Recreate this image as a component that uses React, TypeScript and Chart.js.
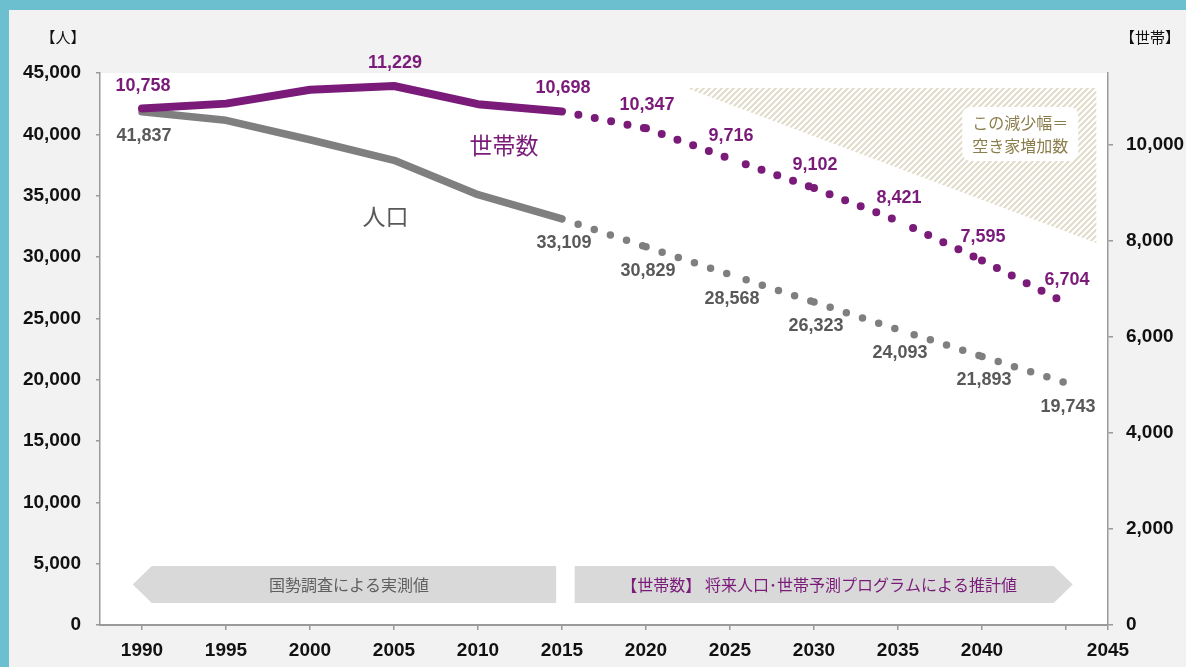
import React, { useEffect, useRef } from "react";
import { Chart, registerables } from "chart.js";

Chart.register(...registerables);

// ---- data ----
const years = [1990, 1995, 2000, 2005, 2010, 2015, 2020, 2025, 2030, 2035, 2040, 2045];
const population = [41837, 41140, 39560, 37880, 35080, 33109, 30829, 28568, 26323, 24093, 21893, 19743];
const households = [10758, 10862, 11152, 11229, 10850, 10698, 10347, 9716, 9102, 8421, 7595, 6704];
const populationLabelIndex = [0, 5, 6, 7, 8, 9, 10, 11];
const householdLabelIndex = [0, 3, 5, 6, 7, 8, 9, 10, 11];
const lastMeasuredIndex = 5;

const populationTicks = [0, 5000, 10000, 15000, 20000, 25000, 30000, 35000, 40000, 45000];
const householdTicks = [0, 2000, 4000, 6000, 8000, 10000];
const populationAxis = { min: 0, max: 45000 };
const householdAxis = { min: 0, max: 11500 };
const yearAxis = { min: 1987.5, max: 2047.5 };

const unitLeft = "【人】";
const unitRight = "【世帯】";
const householdName = "世帯数";
const populationName = "人口";
const hatchNote = ["この減少幅＝", "空き家増加数"];
const measuredText = "国勢調査による実測値";
const projectedText = "【世帯数】 将来人口･世帯予測プログラムによる推計値";

// annotation placement (data units)
const hatchArea = { from: 2022.4, to: 2046.8, top: 11190, bottom: 7960 };
const banners = [
  { from: 1989.45, to: 2014.65, dir: "left", text: measuredText, color: "#5f5f5f" },
  { from: 2015.75, to: 2045.4, dir: "right", text: projectedText, color: "#7A1B79" },
];
const bannerRange = { top: 4800, bottom: 1800 };
const seriesNamePos = [
  { text: householdName, year: 2011.55, axis: "y1", value: 10000, color: "#7A1B79" },
  { text: populationName, year: 2004.5, axis: "y", value: 33340, color: "#595959" },
];

// ---- styles ----
const PURPLE = "#7A1B79";
const GRAY_LINE = "#7F7F7F";
const GRAY_TEXT = "#595959";
const AXIS_GRAY = "#9A9A9A";
const NUM_FONT = '"Liberation Sans", Arial, Helvetica, sans-serif';
const JP_FONT = '"Noto Sans CJK JP", "Noto Sans", sans-serif';

function makeHatch(ctx: CanvasRenderingContext2D) {
  const c = document.createElement("canvas");
  c.width = 6;
  c.height = 6;
  const g = c.getContext("2d")!;
  g.fillStyle = "#ffffff";
  g.fillRect(0, 0, 6, 6);
  g.strokeStyle = "#E0DCCA";
  g.lineWidth = 2;
  g.beginPath();
  g.moveTo(-1, 7);
  g.lineTo(7, -1);
  g.moveTo(-4, 4);
  g.lineTo(4, -4);
  g.moveTo(2, 10);
  g.lineTo(10, 2);
  g.stroke();
  return ctx.createPattern(c, "repeat");
}

const decorPlugin = {
  id: "decor",
  beforeDraw(chart: any) {
    const { ctx, chartArea: a, scales } = chart;
    const x = scales.x;
    const y = scales.y;
    const y1 = scales.y1;
    ctx.save();
    // white plot area
    ctx.fillStyle = "#ffffff";
    ctx.fillRect(a.left, a.top, a.right - a.left, a.bottom - a.top);

    // hatched triangle
    const hx0 = x.getPixelForValue(hatchArea.from);
    const hx1 = x.getPixelForValue(hatchArea.to);
    const hyT = y1.getPixelForValue(hatchArea.top);
    const hyB = y1.getPixelForValue(hatchArea.bottom);
    ctx.fillStyle = makeHatch(ctx);
    ctx.beginPath();
    ctx.moveTo(hx0, hyT);
    ctx.lineTo(hx1, hyT);
    ctx.lineTo(hx1, hyB);
    ctx.closePath();
    ctx.fill();

    // note box
    const bw = 116;
    const bh = 54;
    const bx = hx1 - 18 - bw;
    const by = hyT + 19;
    ctx.fillStyle = "#ffffff";
    ctx.beginPath();
    (ctx as any).roundRect(bx, by, bw, bh, 8);
    ctx.fill();
    ctx.fillStyle = "#8C7E4C";
    ctx.font = `16px ${JP_FONT}`;
    ctx.textAlign = "center";
    ctx.textBaseline = "middle";
    ctx.fillText(hatchNote[0], bx + bw / 2, by + 16);
    ctx.fillText(hatchNote[1], bx + bw / 2, by + 39);

    // banners
    const top = y.getPixelForValue(bannerRange.top);
    const bottom = y.getPixelForValue(bannerRange.bottom);
    const mid = (top + bottom) / 2;
    const depth = 19;
    banners.forEach((b) => {
      const p0 = x.getPixelForValue(b.from);
      const p1 = x.getPixelForValue(b.to);
      ctx.fillStyle = "#D9D9D9";
      ctx.beginPath();
      let cx;
      if (b.dir === "left") {
        ctx.moveTo(p0, mid);
        ctx.lineTo(p0 + depth, top);
        ctx.lineTo(p1, top);
        ctx.lineTo(p1, bottom);
        ctx.lineTo(p0 + depth, bottom);
        cx = (p0 + depth + p1) / 2 - 5;
      } else {
        ctx.moveTo(p0, top);
        ctx.lineTo(p1 - depth, top);
        ctx.lineTo(p1, mid);
        ctx.lineTo(p1 - depth, bottom);
        ctx.lineTo(p0, bottom);
        cx = (p0 + p1 - depth) / 2 + 5;
      }
      ctx.closePath();
      ctx.fill();
      ctx.fillStyle = b.color;
      ctx.font = `16px ${JP_FONT}`;
      ctx.textAlign = "center";
      ctx.textBaseline = "middle";
      ctx.fillText(b.text, cx, mid);
    });

    // unit labels
    ctx.fillStyle = "#111111";
    ctx.font = `15px ${JP_FONT}`;
    ctx.fillText(unitLeft, a.left - 37, a.top - 36);
    ctx.fillText(unitRight, a.right + 42, a.top - 36);
    ctx.restore();
  },
  afterDatasetsDraw(chart: any) {
    const { ctx, scales } = chart;
    ctx.save();
    ctx.textAlign = "center";
    ctx.textBaseline = "middle";
    ctx.font = `bold 18px ${NUM_FONT}`;
    const hMeta = chart.getDatasetMeta(0);
    ctx.fillStyle = PURPLE;
    householdLabelIndex.forEach((i) => {
      const p = hMeta.data[i];
      ctx.fillText(households[i].toLocaleString("en-US"), p.x + 1, p.y - 23);
    });
    const pMeta = chart.getDatasetMeta(1);
    ctx.fillStyle = GRAY_TEXT;
    populationLabelIndex.forEach((i) => {
      const p = pMeta.data[i];
      ctx.fillText(population[i].toLocaleString("en-US"), p.x + 2, p.y + 24);
    });
    seriesNamePos.forEach((s) => {
      ctx.fillStyle = s.color;
      ctx.font = `23px ${JP_FONT}`;
      ctx.fillText(
        s.text,
        scales.x.getPixelForValue(s.year),
        scales[s.axis].getPixelForValue(s.value)
      );
    });
    ctx.restore();
  },
};

const tickFont = { family: NUM_FONT, size: 19, weight: "bold" as const };

function dotted(idx: number, solid: any, dots: any) {
  return idx >= lastMeasuredIndex ? dots : solid;
}

export default function App() {
  const ref = useRef<HTMLCanvasElement>(null);

  useEffect(() => {
    if (!ref.current) return;
    const chart = new Chart(ref.current, {
      type: "line",
      data: {
        datasets: [
          {
            label: householdName,
            data: years.map((yr, i) => ({ x: yr, y: households[i] })),
            yAxisID: "y1",
            borderColor: PURPLE,
            borderWidth: 8,
            borderCapStyle: "round",
            borderJoinStyle: "round",
            pointRadius: 0,
            pointHoverRadius: 0,
            tension: 0,
            segment: {
              borderDash: (c: any) => dotted(c.p0DataIndex, [], [0, 16.7]),
              borderDashOffset: (c: any) =>
                c.p0DataIndex >= lastMeasuredIndex && c.p0DataIndex % 2 ? 0.01 : 0,
              borderWidth: (c: any) => dotted(c.p0DataIndex, 8, 8),
            },
          } as any,
          {
            label: populationName,
            data: years.map((yr, i) => ({ x: yr, y: population[i] })),
            yAxisID: "y",
            borderColor: GRAY_LINE,
            borderWidth: 7.5,
            borderCapStyle: "round",
            borderJoinStyle: "round",
            pointRadius: 0,
            pointHoverRadius: 0,
            tension: 0,
            segment: {
              borderDash: (c: any) => dotted(c.p0DataIndex, [], [0, 17]),
              borderDashOffset: (c: any) =>
                c.p0DataIndex >= lastMeasuredIndex && c.p0DataIndex % 2 ? 0.01 : 0,
              borderWidth: (c: any) => dotted(c.p0DataIndex, 7.5, 7.5),
            },
          } as any,
        ],
      },
      options: {
        responsive: false,
        animation: false,
        devicePixelRatio: 1,
        events: [],
        layout: { padding: { top: 73, left: 0, right: 0, bottom: 0 } },
        plugins: {
          legend: { display: false },
          tooltip: { enabled: false },
          title: { display: false },
        },
        scales: {
          x: {
            type: "linear",
            min: yearAxis.min,
            max: yearAxis.max,
            afterBuildTicks: (s: any) => {
              s.ticks = [...years.map((v) => ({ value: v })), { value: yearAxis.max }];
            },
            afterFit: (s: any) => {
              s.height = 42;
            },
            ticks: {
              autoSkip: false,
              maxRotation: 0,
              padding: 9,
              color: "#111111",
              font: tickFont,
              callback: (v: any) =>
                v === yearAxis.max
                  ? String(years[years.length - 1])
                  : v === years[years.length - 1]
                  ? ""
                  : String(v),
            },
            grid: { drawOnChartArea: false, tickLength: 5, color: AXIS_GRAY, lineWidth: 1.5 },
            border: { color: AXIS_GRAY, width: 2 },
          },
          y: {
            position: "left",
            min: populationAxis.min,
            max: populationAxis.max,
            afterBuildTicks: (s: any) => {
              s.ticks = populationTicks.map((v) => ({ value: v }));
            },
            afterFit: (s: any) => {
              s.width = 100;
            },
            ticks: {
              autoSkip: false,
              padding: 15,
              color: "#111111",
              font: tickFont,
              callback: (v: any) => Number(v).toLocaleString("en-US"),
            },
            grid: { drawOnChartArea: false, tickLength: 4, color: AXIS_GRAY, lineWidth: 1.5 },
            border: { color: AXIS_GRAY, width: 1.5 },
          },
          y1: {
            position: "right",
            min: householdAxis.min,
            max: householdAxis.max,
            afterBuildTicks: (s: any) => {
              s.ticks = householdTicks.map((v) => ({ value: v }));
            },
            afterFit: (s: any) => {
              s.width = 78;
            },
            ticks: {
              autoSkip: false,
              padding: 13,
              color: "#111111",
              font: tickFont,
              callback: (v: any) => Number(v).toLocaleString("en-US"),
            },
            grid: { drawOnChartArea: false, tickLength: 5, color: AXIS_GRAY, lineWidth: 1.5 },
            border: { color: AXIS_GRAY, width: 1.5 },
          },
        },
      } as any,
      plugins: [decorPlugin as any],
    });
    return () => chart.destroy();
  }, []);

  return (
    <div
      style={{
        position: "absolute",
        left: 0,
        top: 0,
        width: 1186,
        height: 667,
        background: "#6BBFCF",
        overflow: "hidden",
      }}
    >
      <div
        style={{
          position: "absolute",
          left: 9,
          top: 10,
          right: 0,
          bottom: 0,
          background: "#F2F2F2",
        }}
      />
      <canvas
        ref={ref}
        width={1186}
        height={667}
        style={{ position: "absolute", left: 0, top: 0, width: 1186, height: 667 }}
      />
    </div>
  );
}
